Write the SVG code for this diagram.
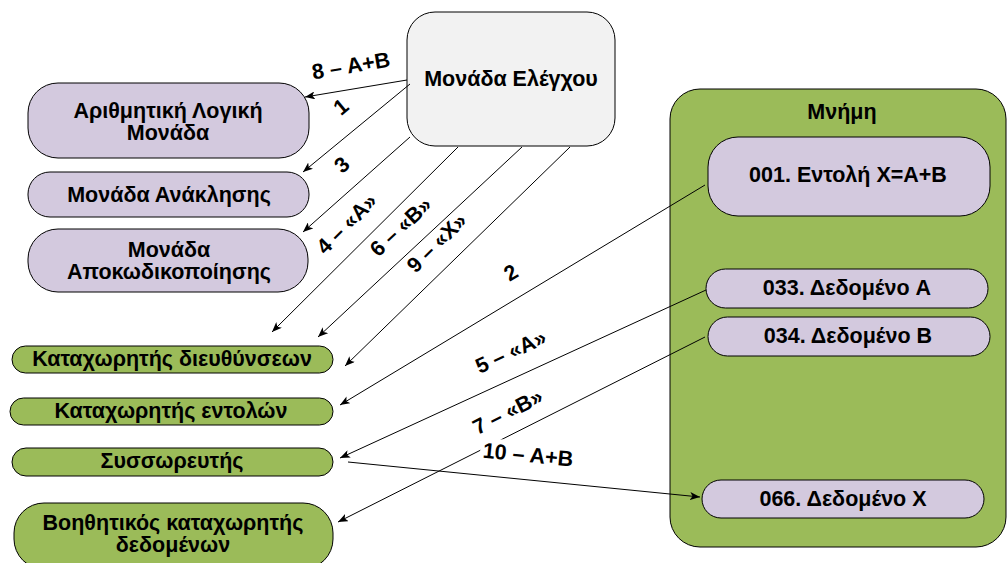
<svg xmlns="http://www.w3.org/2000/svg" width="1007" height="563" viewBox="0 0 1007 563">
  <style>
    text { font-family: "Liberation Sans", Arial, sans-serif; font-weight: bold; font-size: 21.5px; fill: #000; text-anchor: middle; }
    .purple { fill: #d3c9de; stroke: #000; stroke-width: 1; }
    .green { fill: #9bbb59; stroke: #000; stroke-width: 1; }
    .grey { fill: #f2f2f2; stroke: #000; stroke-width: 1; }
    .edge { fill: none; stroke: #000; stroke-width: 1; marker-end: url(#arrow); }
    .lbl { dominant-baseline: central; }
    .bg { fill: #fff; }
  </style>
  <defs>
    <marker id="arrow" viewBox="0 0 10 8" markerWidth="10" markerHeight="8" refX="10" refY="4" orient="auto" markerUnits="userSpaceOnUse">
      <path d="M0,0 L10,4 L0,8 L2.5,4 z" fill="#000"/>
    </marker>
  </defs>

  <!-- memory container -->
  <g id="memory">
    <rect class="green" x="670" y="89" width="336" height="458" rx="30"/>
    <text x="842" y="119">Μνήμη</text>
  </g>

  <g id="control-unit">
    <rect class="grey" x="407" y="12" width="208" height="134" rx="28"/>
    <text x="511" y="86">Μονάδα Ελέγχου</text>
  </g>

  <g id="alu">
    <rect class="purple" x="28" y="83" width="281" height="75" rx="30"/>
    <text x="168" y="118">Αριθμητική Λογική</text>
    <text x="168" y="140">Μονάδα</text>
  </g>

  <g id="fetch-unit">
    <rect class="purple" x="28" y="172" width="281" height="45" rx="22"/>
    <text x="169" y="202">Μονάδα Ανάκλησης</text>
  </g>

  <g id="decode-unit">
    <rect class="purple" x="28" y="229" width="280" height="63" rx="30"/>
    <text x="169" y="257">Μονάδα</text>
    <text x="169" y="279">Αποκωδικοποίησης</text>
  </g>

  <g id="address-register">
    <rect class="green" x="12" y="346" width="321" height="27" rx="13.5"/>
    <text x="172" y="366">Καταχωρητής διευθύνσεων</text>
  </g>

  <g id="instruction-register">
    <rect class="green" x="10" y="398" width="323" height="27" rx="13.5"/>
    <text x="171" y="418">Καταχωρητής εντολών</text>
  </g>

  <g id="accumulator">
    <rect class="green" x="12" y="448" width="321" height="28" rx="14"/>
    <text x="172" y="468">Συσσωρευτής</text>
  </g>

  <g id="data-register">
    <rect class="green" x="14" y="503" width="319" height="66" rx="30"/>
    <text x="173" y="530">Βοηθητικός καταχωρητής</text>
    <text x="173" y="552">δεδομένων</text>
  </g>

  <g id="mem-001">
    <rect class="purple" x="708" y="137" width="282" height="79" rx="30"/>
    <text x="848" y="182">001. Εντολή X=A+B</text>
  </g>

  <g id="mem-033">
    <rect class="purple" x="706" y="269" width="282" height="39" rx="19.5"/>
    <text x="847" y="295">033. Δεδομένο A</text>
  </g>

  <g id="mem-034">
    <rect class="purple" x="708" y="317" width="282" height="39" rx="19.5"/>
    <text x="848" y="343">034. Δεδομένο B</text>
  </g>

  <g id="mem-066">
    <rect class="purple" x="702" y="480" width="282" height="38" rx="19"/>
    <text x="843" y="506">066. Δεδομένο X</text>
  </g>

  <!-- connectors -->
  <g id="connectors">
    <path class="edge" d="M407,80 L305,97"/>
    <path class="edge" d="M410,84 L303,172"/>
    <path class="edge" d="M410,137 L303,232"/>
    <path class="edge" d="M458,147 L272,332"/>
    <path class="edge" d="M522,147 L318,337"/>
    <path class="edge" d="M570,147 L345,366"/>
    <path class="edge" d="M705,185 L340,405"/>
    <path class="edge" d="M706,290 L340,458"/>
    <path class="edge" d="M705,337 L338,522"/>
    <path class="edge" d="M348,462 L700,497"/>
  </g>

  <!-- connector labels -->
  <g id="labels">
    <text class="lbl" transform="translate(351,66) rotate(-9.5)">8 – A+B</text>
    <text class="lbl" transform="translate(341,107) rotate(-39.8)">1</text>
    <text class="lbl" transform="translate(342,165) rotate(-41.6)">3</text>
    <text class="lbl" transform="translate(347,224) rotate(-45)">4 – «A»</text>
    <text class="lbl" transform="translate(401,227) rotate(-43)">6 – «B»</text>
    <text class="lbl" transform="translate(437,243) rotate(-44.4)">9 – «X»</text>
    <text class="lbl" transform="translate(511,273) rotate(-31)">2</text>
    <text class="lbl" transform="translate(511,352) rotate(-24.7)">5 – «A»</text>
    <text class="lbl" transform="translate(508,412) rotate(-26.9)">7 – «B»</text>
    <g transform="translate(528,455) rotate(5.7)">
      <rect class="bg" x="-48" y="-13" width="96" height="26"/>
      <text class="lbl">10 – A+B</text>
    </g>
  </g>
</svg>
